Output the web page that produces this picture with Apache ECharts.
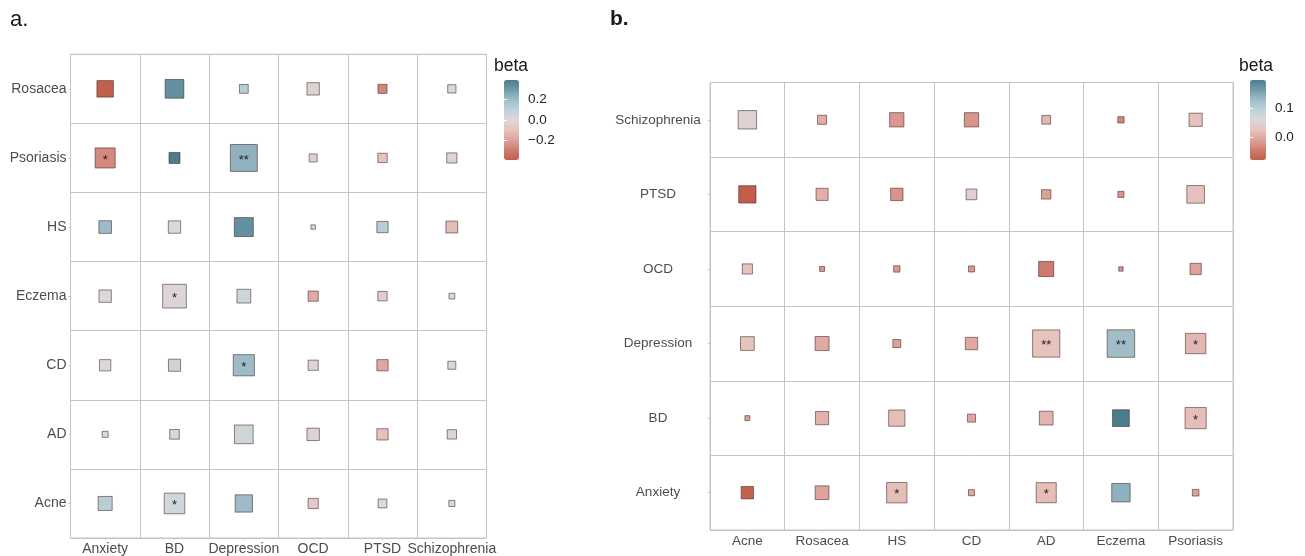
<!DOCTYPE html>
<html><head><meta charset="utf-8">
<script src="https://cdn.jsdelivr.net/npm/echarts@6/dist/echarts.min.js"></script>
<style>html,body{margin:0;padding:0;background:#fff}#c{width:1305px;height:556px}</style>
</head><body><div id="c"></div>
<script>
// ---------- Panel a ----------
const rowsA = ['Rosacea','Psoriasis','HS','Eczema','CD','AD','Acne'];
const colsA = ['Anxiety','BD','Depression','OCD','PTSD','Schizophrenia'];
const betaA = [
  [-0.386, 0.330, 0.120, -0.020, -0.270, 0.000],
  [-0.260, 0.386, 0.230, -0.020, -0.100, -0.020],
  [ 0.200, 0.000, 0.330,  0.000,  0.120, -0.120],
  [ 0.000,-0.015, 0.050, -0.170, -0.050,  0.000],
  [ 0.000, 0.055, 0.200, -0.015, -0.180, -0.010],
  [ 0.000,-0.015, 0.050, -0.025, -0.100, -0.015],
  [ 0.120, 0.040, 0.200, -0.060,  0.000,  0.000]
];
const weightA = [
  [0.60, 0.68, 0.32, 0.45, 0.33, 0.30],
  [0.73, 0.40, 0.98, 0.29, 0.34, 0.37],
  [0.46, 0.45, 0.69, 0.16, 0.41, 0.43],
  [0.45, 0.86, 0.50, 0.37, 0.34, 0.21],
  [0.41, 0.44, 0.77, 0.37, 0.41, 0.29],
  [0.22, 0.35, 0.68, 0.45, 0.41, 0.34],
  [0.51, 0.75, 0.63, 0.37, 0.32, 0.22]
];
const starsA = [
  ['', '', '', '', '', ''],
  ['*', '', '**', '', '', ''],
  ['', '', '', '', '', ''],
  ['', '*', '', '', '', ''],
  ['', '', '*', '', '', ''],
  ['', '', '', '', '', ''],
  ['', '*', '', '', '', '']
];
const limitsA = [-0.39, 0.39];
const ticksA = [-0.2, 0.0, 0.2];

// ---------- Panel b ----------
const rowsB = ['Schizophrenia','PTSD','OCD','Depression','BD','Anxiety'];
const colsB = ['Acne','Rosacea','HS','CD','AD','Eczema','Psoriasis'];
const betaB = [
  [ 0.051, 0.001,-0.019,-0.021, 0.012,-0.035, 0.023],
  [-0.080, 0.004,-0.024, 0.046,-0.010,-0.024, 0.023],
  [ 0.026,-0.019,-0.019,-0.019,-0.047,-0.019,-0.010],
  [ 0.026,-0.002,-0.013,-0.002, 0.026, 0.129, 0.012],
  [-0.013, 0.006, 0.020,-0.005, 0.009, 0.199, 0.020],
  [-0.076,-0.010, 0.020,-0.005, 0.020, 0.143,-0.010]
];
const weightB = [
  [0.67, 0.33, 0.52, 0.52, 0.32, 0.23, 0.48],
  [0.63, 0.44, 0.45, 0.39, 0.34, 0.22, 0.64],
  [0.37, 0.18, 0.23, 0.22, 0.55, 0.16, 0.41],
  [0.50, 0.51, 0.29, 0.45, 0.99, 1.00, 0.74],
  [0.18, 0.48, 0.59, 0.29, 0.50, 0.61, 0.77],
  [0.45, 0.50, 0.74, 0.22, 0.73, 0.67, 0.24]
];
const starsB = [
  ['', '', '', '', '', '', ''],
  ['', '', '', '', '', '', ''],
  ['', '', '', '', '', '', ''],
  ['', '', '', '', '**', '**', '*'],
  ['', '', '', '', '', '', '*'],
  ['', '', '*', '', '*', '', '']
];
const limitsB = [-0.08, 0.199];
const ticksB = [0.0, 0.1];

const palette = ['#c25f4c','#cf7c6f','#dea29b','#e7c2bd','#dbd8d9','#bfd3d9','#a0bec8','#729cab','#4b7d8e'];
const MAXSIZE = 27.5;

function build(beta, weight, stars) {
  const out = [];
  beta.forEach((row, r) => row.forEach((b, c) => {
    out.push({ value: [c, r, b, weight[r][c]], star: stars[r][c] });
  }));
  return out;
}
const fmt = v => (v < 0 ? '\u2212' : '') + Math.abs(v).toFixed(1);

const FONT = 'Liberation Sans, Arial, sans-serif';
const labelColor = '#4d4d4d';
const lineColor = '#c4c4c4';

function catAxes(grid, xs, ys, fs, yAlignCenter, yMargin) {
  return {
    x: {
      type: 'category', gridIndex: grid, data: xs, position: 'bottom',
      axisLine: { show: false },
      axisTick: { show: true, alignWithLabel: true, length: 2, lineStyle: { color: lineColor } },
      axisLabel: { margin: 4, fontSize: fs, color: labelColor, fontFamily: FONT, interval: 0 },
      splitLine: { show: true, interval: 0, lineStyle: { color: lineColor, width: 1 } }
    },
    y: {
      type: 'category', gridIndex: grid, data: ys, inverse: true,
      axisLine: { show: false },
      axisTick: { show: true, alignWithLabel: true, length: 2, lineStyle: { color: lineColor } },
      axisLabel: { margin: yMargin, fontSize: fs, color: labelColor, fontFamily: FONT, interval: 0, align: yAlignCenter ? 'center' : 'right' },
      splitLine: { show: true, interval: 0, lineStyle: { color: lineColor, width: 1 } }
    }
  };
}
const axA = catAxes(0, colsA, rowsA, 14, false, 4);
const axB = catAxes(1, colsB, rowsB, 13.5, true, 52);

function barAxes(grid, lim, ticks) {
  return [
    { type: 'value', gridIndex: grid, min: lim[0], max: lim[1], position: 'right', z: 10,
      axisLine: { show: false }, splitLine: { show: false },
      axisTick: { show: true, inside: true, length: 3, customValues: ticks, lineStyle: { color: '#ffffff', width: 1 } },
      axisLabel: { show: true, customValues: ticks, margin: 9, fontSize: 13.5, color: '#222', formatter: fmt, fontFamily: FONT } },
    { type: 'value', gridIndex: grid, min: lim[0], max: lim[1], position: 'left', z: 10,
      axisLine: { show: false }, splitLine: { show: false },
      axisTick: { show: true, inside: true, length: 3, customValues: ticks, lineStyle: { color: '#ffffff', width: 1 } },
      axisLabel: { show: false } }
  ];
}

function scatter(xi, yi, data) {
  return {
    type: 'scatter', xAxisIndex: xi, yAxisIndex: yi, data: data, symbol: 'rect',
    symbolSize: v => v[3] * MAXSIZE,
    itemStyle: { borderColor: 'rgba(60,35,35,0.55)', borderWidth: 1, opacity: 1 },
    label: { show: true, position: 'inside', formatter: p => p.data.star, fontSize: 13, offset: [0, 2], color: '#222', fontFamily: FONT },
    emphasis: { disabled: true }, silent: true, animation: false
  };
}

const barA = barAxes(2, limitsA, ticksA);
const barB = barAxes(3, limitsB, ticksB);

const option = {
  animation: false,
  backgroundColor: '#ffffff',
  title: [
    { text: 'a.', left: 10, top: 9, padding: 0, textStyle: { fontSize: 22, fontWeight: 'normal', color: '#1a1a1a', fontFamily: FONT } },
    { text: 'b.', left: 610, top: 9, padding: 0, textStyle: { fontSize: 21, fontWeight: 'bold', color: '#1a1a1a', fontFamily: FONT } },
    { text: 'beta', left: 494, top: 57, padding: 0, textStyle: { fontSize: 17.5, fontWeight: 'normal', color: '#1a1a1a', fontFamily: FONT } },
    { text: 'beta', left: 1239, top: 57, padding: 0, textStyle: { fontSize: 17.5, fontWeight: 'normal', color: '#1a1a1a', fontFamily: FONT } }
  ],
  grid: [
    { left: 70.5, top: 54.3, width: 416, height: 485, show: true, borderColor: lineColor, borderWidth: 1, containLabel: false },
    { left: 710, top: 82.5, width: 523, height: 447.5, show: true, borderColor: lineColor, borderWidth: 1, containLabel: false },
    { left: 504, top: 80, width: 15, height: 80, containLabel: false },
    { left: 1250, top: 80, width: 16, height: 80, containLabel: false }
  ],
  xAxis: [axA.x, axB.x,
    { type: 'value', gridIndex: 2, show: false }, { type: 'value', gridIndex: 3, show: false }],
  yAxis: [axA.y, axB.y, barA[0], barA[1], barB[0], barB[1]],
  visualMap: [
    { type: 'continuous', seriesIndex: 0, dimension: 2, min: limitsA[0], max: limitsA[1],
      calculable: false, hoverLink: false, left: 504, top: 80, itemWidth: 15, itemHeight: 80, padding: 0,
      inRange: { color: palette }, text: null, showLabel: false },
    { type: 'continuous', seriesIndex: 1, dimension: 2, min: limitsB[0], max: limitsB[1],
      calculable: false, hoverLink: false, left: 1250, top: 80, itemWidth: 16, itemHeight: 80, padding: 0,
      inRange: { color: palette }, text: null, showLabel: false }
  ],
  series: [
    scatter(0, 0, build(betaA, weightA, starsA)),
    scatter(1, 1, build(betaB, weightB, starsB)),
    { type: 'scatter', xAxisIndex: 2, yAxisIndex: 2, data: [] },
    { type: 'scatter', xAxisIndex: 3, yAxisIndex: 4, data: [] }
  ]
};
const chart = echarts.init(document.getElementById('c'), null, { renderer: 'canvas' });
chart.setOption(option);
</script>
</body></html>
